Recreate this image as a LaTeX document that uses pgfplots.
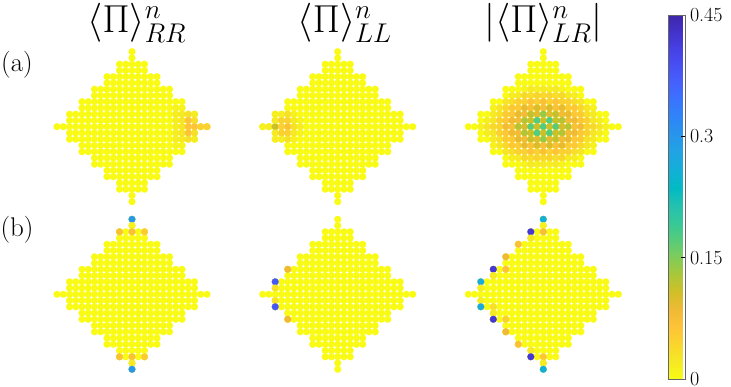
\documentclass[border=0pt]{standalone}
\usepackage{pgfplots}
\pgfplotsset{compat=1.18}
\usepackage{pgfplotstable}

\definecolor{siteyellow}{rgb}{.9769,.9839,.0805}

% every site of the lattice
\pgfplotstableread[row sep=\\]{x y\\
0 12\\ 0 11\\
-2 10\\ -1 10\\ 0 10\\ 1 10\\ 2 10\\
-2 9\\ -1 9\\ 0 9\\ 1 9\\ 2 9\\
-4 8\\ -3 8\\ -2 8\\ -1 8\\ 0 8\\ 1 8\\ 2 8\\ 3 8\\ 4 8\\
-4 7\\ -3 7\\ -2 7\\ -1 7\\ 0 7\\ 1 7\\ 2 7\\ 3 7\\ 4 7\\
-6 6\\ -5 6\\ -4 6\\ -3 6\\ -2 6\\ -1 6\\ 0 6\\ 1 6\\ 2 6\\ 3 6\\ 4 6\\ 5 6\\ 6 6\\
-6 5\\ -5 5\\ -4 5\\ -3 5\\ -2 5\\ -1 5\\ 0 5\\ 1 5\\ 2 5\\ 3 5\\ 4 5\\ 5 5\\ 6 5\\
-8 4\\ -7 4\\ -6 4\\ -5 4\\ -4 4\\ -3 4\\ -2 4\\ -1 4\\ 0 4\\ 1 4\\ 2 4\\ 3 4\\ 4 4\\ 5 4\\ 6 4\\ 7 4\\ 8 4\\
-8 3\\ -7 3\\ -6 3\\ -5 3\\ -4 3\\ -3 3\\ -2 3\\ -1 3\\ 0 3\\ 1 3\\ 2 3\\ 3 3\\ 4 3\\ 5 3\\ 6 3\\ 7 3\\ 8 3\\
-10 2\\ -9 2\\ -8 2\\ -7 2\\ -6 2\\ -5 2\\ -4 2\\ -3 2\\ -2 2\\ -1 2\\ 0 2\\ 1 2\\ 2 2\\ 3 2\\ 4 2\\ 5 2\\ 6 2\\ 7 2\\ 8 2\\ 9 2\\ 10 2\\
-10 1\\ -9 1\\ -8 1\\ -7 1\\ -6 1\\ -5 1\\ -4 1\\ -3 1\\ -2 1\\ -1 1\\ 0 1\\ 1 1\\ 2 1\\ 3 1\\ 4 1\\ 5 1\\ 6 1\\ 7 1\\ 8 1\\ 9 1\\ 10 1\\
-12 0\\ -11 0\\ -10 0\\ -9 0\\ -8 0\\ -7 0\\ -6 0\\ -5 0\\ -4 0\\ -3 0\\ -2 0\\ -1 0\\ 0 0\\ 1 0\\ 2 0\\ 3 0\\ 4 0\\ 5 0\\ 6 0\\ 7 0\\ 8 0\\ 9 0\\ 10 0\\ 11 0\\ 12 0\\
-10 -1\\ -9 -1\\ -8 -1\\ -7 -1\\ -6 -1\\ -5 -1\\ -4 -1\\ -3 -1\\ -2 -1\\ -1 -1\\ 0 -1\\ 1 -1\\ 2 -1\\ 3 -1\\ 4 -1\\ 5 -1\\ 6 -1\\ 7 -1\\ 8 -1\\ 9 -1\\ 10 -1\\
-10 -2\\ -9 -2\\ -8 -2\\ -7 -2\\ -6 -2\\ -5 -2\\ -4 -2\\ -3 -2\\ -2 -2\\ -1 -2\\ 0 -2\\ 1 -2\\ 2 -2\\ 3 -2\\ 4 -2\\ 5 -2\\ 6 -2\\ 7 -2\\ 8 -2\\ 9 -2\\ 10 -2\\
-8 -3\\ -7 -3\\ -6 -3\\ -5 -3\\ -4 -3\\ -3 -3\\ -2 -3\\ -1 -3\\ 0 -3\\ 1 -3\\ 2 -3\\ 3 -3\\ 4 -3\\ 5 -3\\ 6 -3\\ 7 -3\\ 8 -3\\
-8 -4\\ -7 -4\\ -6 -4\\ -5 -4\\ -4 -4\\ -3 -4\\ -2 -4\\ -1 -4\\ 0 -4\\ 1 -4\\ 2 -4\\ 3 -4\\ 4 -4\\ 5 -4\\ 6 -4\\ 7 -4\\ 8 -4\\
-6 -5\\ -5 -5\\ -4 -5\\ -3 -5\\ -2 -5\\ -1 -5\\ 0 -5\\ 1 -5\\ 2 -5\\ 3 -5\\ 4 -5\\ 5 -5\\ 6 -5\\
-6 -6\\ -5 -6\\ -4 -6\\ -3 -6\\ -2 -6\\ -1 -6\\ 0 -6\\ 1 -6\\ 2 -6\\ 3 -6\\ 4 -6\\ 5 -6\\ 6 -6\\
-4 -7\\ -3 -7\\ -2 -7\\ -1 -7\\ 0 -7\\ 1 -7\\ 2 -7\\ 3 -7\\ 4 -7\\
-4 -8\\ -3 -8\\ -2 -8\\ -1 -8\\ 0 -8\\ 1 -8\\ 2 -8\\ 3 -8\\ 4 -8\\
-2 -9\\ -1 -9\\ 0 -9\\ 1 -9\\ 2 -9\\
-2 -10\\ -1 -10\\ 0 -10\\ 1 -10\\ 2 -10\\
0 -11\\ 0 -12\\
}\lattice

\pgfplotsset{
  panel/.style={
    hide axis, clip=false, anchor=center,
    x=6.25pt, y=6.25pt,
    xmin=-13, xmax=13, ymin=-13, ymax=13,
    colormap={parulaflip}{
      rgb=(.9769,.9839,.0805) rgb=(.9597,.9135,.1423) rgb=(.9786,.8386,.1766)
      rgb=(.9970,.7659,.2199) rgb=(.9393,.7288,.2100) rgb=(.8203,.7498,.1535)
      rgb=(.6720,.7793,.2227) rgb=(.5044,.7993,.3480) rgb=(.3406,.8008,.4789)
      rgb=(.2161,.7843,.5923) rgb=(.1408,.7584,.6842) rgb=(.0067,.7312,.7660)
      rgb=(.0688,.6929,.8394) rgb=(.1258,.6459,.8883) rgb=(.1540,.5902,.9218)
      rgb=(.1786,.5289,.9682) rgb=(.2206,.4603,.9973) rgb=(.2699,.3892,.9906)
      rgb=(.2810,.3228,.9579) rgb=(.2783,.2559,.8991) rgb=(.2647,.1978,.7952)
      rgb=(.2422,.1504,.6603)
    },
    point meta min=0, point meta max=0.45,
  },
  sites/.style={only marks, mark=*, mark size=3.45pt, color=siteyellow, line width=0.1pt},
  hot/.style={scatter, only marks, mark=*, mark size=3.45pt, point meta=explicit,
    line width=0.1pt, scatter/use mapped color={draw=mapped color, fill=mapped color}},
}

\begin{document}
\begin{tikzpicture}[x=1pt,y=1pt]
\path[use as bounding box] (0,0) rectangle (731,387);

% (a) row
\begin{axis}[panel, at={(132pt,260.3pt)}]
\addplot[sites] table[x=x,y=y] {\lattice};
\addplot[hot] coordinates {
(7,3) [.01] (8,3) [.01] (7,2) [.015] (8,2) [.02] (9,2) [.03] (10,2) [.018]
(7,1) [.015] (8,1) [.025] (9,1) [.065] (10,1) [.035]
(7,0) [.015] (8,0) [.025] (9,0) [.065] (10,0) [.065] (11,0) [.05] (12,0) [.05]
(7,-1) [.015] (8,-1) [.025] (9,-1) [.065] (10,-1) [.035]
(7,-2) [.015] (8,-2) [.02] (9,-2) [.03] (10,-2) [.018] (7,-3) [.01] (8,-3) [.01]
};
\end{axis}

\begin{axis}[panel, at={(337.7pt,260.3pt)}]
\addplot[sites] table[x=x,y=y] {\lattice};
\addplot[hot] coordinates {
(-12,0) [.012] (-11,0) [.015] (-10,0) [.11] (-9,0) [.05] (-8,0) [.07] (-7,0) [.03] (-6,0) [.015]
(-10,1) [.02] (-9,1) [.05] (-8,1) [.05] (-7,1) [.02] (-6,1) [.01]
(-10,-1) [.02] (-9,-1) [.05] (-8,-1) [.05] (-7,-1) [.02] (-6,-1) [.01]
(-10,2) [.015] (-9,2) [.015] (-8,2) [.03] (-7,2) [.012]
(-10,-2) [.015] (-9,-2) [.015] (-8,-2) [.03] (-7,-2) [.012]
};
\end{axis}

\begin{axis}[panel, at={(543.3pt,260.3pt)}]
\addplot[sites] table[x=x,y=y] {\lattice};
\addplot[hot] coordinates {
(-3,6) [.01] (-2,6) [.02] (-1,6) [.015] (0,6) [.02] (1,6) [.015] (2,6) [.02] (3,6) [.01]
(-5,5) [.015] (-4,5) [.02] (-3,5) [.04] (-2,5) [.035] (-1,5) [.045] (0,5) [.04] (1,5) [.045] (2,5) [.035] (3,5) [.04] (4,5) [.02] (5,5) [.015]
(-6,4) [.025] (-5,4) [.035] (-4,4) [.05] (-3,4) [.05] (-2,4) [.065] (-1,4) [.05] (0,4) [.07] (1,4) [.05] (2,4) [.065] (3,4) [.05] (4,4) [.05] (5,4) [.035] (6,4) [.025]
(-8,3) [.012] (-7,3) [.025] (-6,3) [.04] (-5,3) [.06] (-4,3) [.055] (-3,3) [.09] (-2,3) [.07] (-1,3) [.10] (0,3) [.075] (1,3) [.10] (2,3) [.07] (3,3) [.09] (4,3) [.055] (5,3) [.06] (6,3) [.04] (7,3) [.025] (8,3) [.012]
(-8,2) [.02] (-7,2) [.03] (-6,2) [.055] (-5,2) [.06] (-4,2) [.09] (-3,2) [.08] (-2,2) [.115] (-1,2) [.095] (0,2) [.14] (1,2) [.095] (2,2) [.115] (3,2) [.08] (4,2) [.09] (5,2) [.06] (6,2) [.055] (7,2) [.03] (8,2) [.02]
(-9,1) [.015] (-8,1) [.025] (-7,1) [.05] (-6,1) [.06] (-5,1) [.085] (-4,1) [.08] (-3,1) [.125] (-2,1) [.11] (-1,1) [.175] (0,1) [.11] (1,1) [.175] (2,1) [.11] (3,1) [.125] (4,1) [.08] (5,1) [.085] (6,1) [.06] (7,1) [.05] (8,1) [.025] (9,1) [.015]
(-10,0) [.012] (-9,0) [.025] (-8,0) [.04] (-7,0) [.045] (-6,0) [.08] (-5,0) [.07] (-4,0) [.125] (-3,0) [.10] (-2,0) [.17] (-1,0) [.11] (0,0) [.175] (1,0) [.11] (2,0) [.17] (3,0) [.10] (4,0) [.125] (5,0) [.07] (6,0) [.08] (7,0) [.045] (8,0) [.04] (9,0) [.025] (10,0) [.012]
(-9,-1) [.015] (-8,-1) [.025] (-7,-1) [.05] (-6,-1) [.06] (-5,-1) [.085] (-4,-1) [.08] (-3,-1) [.125] (-2,-1) [.11] (-1,-1) [.175] (0,-1) [.11] (1,-1) [.175] (2,-1) [.11] (3,-1) [.125] (4,-1) [.08] (5,-1) [.085] (6,-1) [.06] (7,-1) [.05] (8,-1) [.025] (9,-1) [.015]
(-8,-2) [.02] (-7,-2) [.03] (-6,-2) [.055] (-5,-2) [.06] (-4,-2) [.09] (-3,-2) [.08] (-2,-2) [.115] (-1,-2) [.095] (0,-2) [.14] (1,-2) [.095] (2,-2) [.115] (3,-2) [.08] (4,-2) [.09] (5,-2) [.06] (6,-2) [.055] (7,-2) [.03] (8,-2) [.02]
(-8,-3) [.012] (-7,-3) [.025] (-6,-3) [.04] (-5,-3) [.06] (-4,-3) [.055] (-3,-3) [.09] (-2,-3) [.07] (-1,-3) [.10] (0,-3) [.075] (1,-3) [.10] (2,-3) [.07] (3,-3) [.09] (4,-3) [.055] (5,-3) [.06] (6,-3) [.04] (7,-3) [.025] (8,-3) [.012]
(-6,-4) [.025] (-5,-4) [.035] (-4,-4) [.05] (-3,-4) [.05] (-2,-4) [.065] (-1,-4) [.05] (0,-4) [.07] (1,-4) [.05] (2,-4) [.065] (3,-4) [.05] (4,-4) [.05] (5,-4) [.035] (6,-4) [.025]
(-5,-5) [.015] (-4,-5) [.02] (-3,-5) [.04] (-2,-5) [.035] (-1,-5) [.045] (0,-5) [.04] (1,-5) [.045] (2,-5) [.035] (3,-5) [.04] (4,-5) [.02] (5,-5) [.015]
(-3,-6) [.01] (-2,-6) [.02] (-1,-6) [.015] (0,-6) [.02] (1,-6) [.015] (2,-6) [.02] (3,-6) [.01]
};
\end{axis}

% (b) row
\begin{axis}[panel, at={(132pt,92.7pt)}]
\addplot[sites] table[x=x,y=y] {\lattice};
\addplot[hot] coordinates {
(0,12) [.30] (0,11) [.012] (-2,10) [.07] (0,10) [.07] (2,10) [.055]
(-2,-10) [.07] (0,-10) [.07] (2,-10) [.055] (0,-11) [.02] (0,-12) [.30]
};
\end{axis}

\begin{axis}[panel, at={(337.7pt,92.7pt)}]
\addplot[sites] table[x=x,y=y] {\lattice};
\addplot[hot] coordinates {
(-8,4) [.085] (-10,2) [.38] (-10,1) [.03] (-10,-1) [.03] (-10,-2) [.38] (-8,-4) [.085]
};
\end{axis}

\begin{axis}[panel, at={(543.3pt,92.7pt)},
  colorbar,
  colorbar style={
    at={(1.2705,-0.0212)}, anchor=south west,
    width=16.5pt, height=364pt,
    ymin=0, ymax=0.45,
    ytick={0,0.15,0.3,0.45},
    yticklabels={0,0.15,0.3,0.45},
    tick align=inside,
    major tick length=4pt,
    ytick pos=right,
    yticklabel pos=right,
    tick style={black, line width=0.5pt},
    axis line style={black!60, line width=0.5pt},
    tick label style={font=\fontsize{20}{20}\selectfont, xshift=1.5pt, inner ysep=0pt},
    /pgf/number format/assume math mode=true,
  }]
\addplot[sites] table[x=x,y=y] {\lattice};
\addplot[hot] coordinates {
(0,12) [.26] (0,11) [.012] (-2,10) [.42] (0,10) [.075] (-2,9) [.02] (-4,8) [.07]
(-6,6) [.085] (-8,4) [.42] (-6,4) [.065] (-8,3) [.02] (-10,2) [.27] (-10,1) [.015]
(-10,-1) [.015] (-10,-2) [.27] (-8,-2) [.03] (-8,-3) [.02] (-8,-4) [.42] (-6,-4) [.05]
(-6,-6) [.085] (-4,-8) [.07] (-2,-9) [.02] (-2,-10) [.42] (0,-10) [.06] (0,-11) [.02] (0,-12) [.26]
};
\end{axis}

% column and row headings
\node[scale=1.88] at (137,364) {\huge $\langle\Pi\rangle^{n}_{RR}$};
\node[scale=1.88] at (345,364) {\huge $\langle\Pi\rangle^{n}_{LL}$};
\node[scale=1.88] at (543.5,364) {\huge $\left|\langle\Pi\rangle^{n}_{LR}\right|$};
\node[font=\fontsize{27}{28}\selectfont] at (17,322) {(a)};
\node[font=\fontsize{27}{28}\selectfont] at (17,157) {(b)};
\end{tikzpicture}
\end{document}
